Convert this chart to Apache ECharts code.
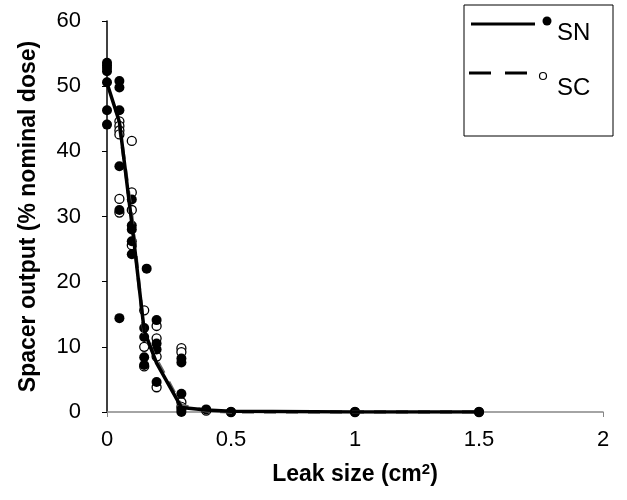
<!DOCTYPE html>
<html>
<head>
<meta charset="utf-8">
<script src="https://cdn.jsdelivr.net/npm/echarts@6/dist/echarts.min.js"></script>
<style>
  html, body { margin: 0; padding: 0; background: #fff; }
  #chart { width: 627px; height: 500px; }
</style>
</head>
<body>
<div id="chart"></div>
<script>
// trend lines
const leakSizes = [0, 0.05, 0.1, 0.15, 0.2, 0.3, 0.4, 0.5, 1, 1.5];
const snLine = [50.5, 44.5, 29, 12.5, 7.5, 0.7, 0.3, 0.1, 0, 0];
const scLine = [null, 44, 30, 12, 8, 1, 0.2, 0, 0, 0];

// individual measurements, SN (filled)
const snLeak = [0, 0, 0, 0, 0, 0, 0,
    0.05, 0.05, 0.05, 0.05, 0.05, 0.05,
    0.1, 0.1, 0.1, 0.1, 0.1,
    0.16, 0.15, 0.15, 0.15, 0.15,
    0.2, 0.2, 0.2, 0.2,
    0.3, 0.3, 0.3, 0.3, 0.3,
    0.4, 0.5, 1, 1.5];
const snOutput = [53.6, 53.2, 52.8, 52.3, 50.6, 46.3, 44.1,
    50.8, 49.8, 46.3, 37.7, 31.0, 14.4,
    32.6, 28.6, 28.0, 26.2, 24.2,
    22.0, 12.9, 11.5, 8.4, 7.2,
    14.1, 10.5, 9.6, 4.6,
    8.2, 7.6, 2.8, 0.4, 0,
    0.4, 0, 0, 0];

// individual measurements, SC (open)
const scLeak = [0.05, 0.05, 0.05, 0.05, 0.05, 0.05,
    0.1, 0.1, 0.1, 0.1,
    0.15, 0.15, 0.15,
    0.2, 0.2, 0.2, 0.2,
    0.3, 0.3, 0.3, 0.3,
    0.4, 0.5, 1, 1.5];
const scOutput = [44.6, 43.9, 43.2, 42.6, 32.7, 30.6,
    41.6, 33.7, 31.0, 25.6,
    15.6, 10.0, 7.0,
    13.2, 11.3, 8.5, 3.8,
    9.8, 9.2, 1.5, 0.8,
    0.2, 0, 0, 0];

const xTicks = [0, 0.5, 1, 1.5, 2];
const yTicks = [0, 10, 20, 30, 40, 50, 60];

function pairs(xs, ys) {
    return xs.map((x, i) => [x, ys[i]]);
}

const font = 'Liberation Sans, Arial, sans-serif';
const chart = echarts.init(document.getElementById('chart'));

chart.setOption({
    animation: false,
    backgroundColor: '#fff',
    grid: { left: 107, right: 24, top: 21, bottom: 88 },
    xAxis: {
        type: 'value',
        min: xTicks[0],
        max: xTicks[xTicks.length - 1],
        interval: 0.5,
        name: 'Leak size (cm{sup|2})',
        nameLocation: 'middle',
        nameGap: 50,
        nameTextStyle: {
            fontFamily: font, fontSize: 23, fontWeight: 'bold', color: '#000',
            rich: { sup: { fontFamily: font, fontSize: 15, fontWeight: 'bold', color: '#000', verticalAlign: 'top', padding: [0, 0, 10, 0] } }
        },
        axisLine: { lineStyle: { color: '#868686', width: 1.5 } },
        axisTick: { show: true, length: 5, lineStyle: { color: '#868686' } },
        axisLabel: { fontFamily: font, fontSize: 22, color: '#000', margin: 17 },
        splitLine: { show: false }
    },
    yAxis: {
        type: 'value',
        min: yTicks[0],
        max: yTicks[yTicks.length - 1],
        interval: 10,
        name: 'Spacer output (% nominal dose)',
        nameLocation: 'middle',
        nameGap: 67,
        nameTextStyle: { fontFamily: font, fontSize: 23, fontWeight: 'bold', color: '#000' },
        axisLine: { show: true, lineStyle: { color: '#000', width: 1.5 } },
        axisTick: { show: true, length: 5, lineStyle: { color: '#000' } },
        axisLabel: { fontFamily: font, fontSize: 22, color: '#000', margin: 26 },
        splitLine: { show: false }
    },
    series: [
        {
            name: 'SC',
            type: 'scatter',
            data: pairs(scLeak, scOutput),
            symbol: 'circle',
            symbolSize: 9,
            itemStyle: { color: '#fff', borderColor: '#000', borderWidth: 1.3, opacity: 1 },
            z: 2
        },
        {
            name: 'SN',
            type: 'scatter',
            data: pairs(snLeak, snOutput),
            symbol: 'circle',
            symbolSize: 10,
            itemStyle: { color: '#000', opacity: 1 },
            z: 3
        },
        {
            name: 'SC trend',
            type: 'line',
            data: pairs(leakSizes, scLine),
            showSymbol: false,
            connectNulls: false,
            lineStyle: { color: '#666', width: 3.5, type: [12, 10] },
            z: 4
        },
        {
            name: 'SN trend',
            type: 'line',
            data: pairs(leakSizes, snLine),
            showSymbol: false,
            lineStyle: { color: '#000', width: 3.5 },
            z: 5
        }
    ],
    graphic: [
        { type: 'rect', shape: { x: 464, y: 5, width: 149, height: 131 }, style: { fill: '#fff', stroke: '#000', lineWidth: 1 } },
        { type: 'line', shape: { x1: 471, y1: 24, x2: 535, y2: 24 }, style: { stroke: '#000', lineWidth: 3 } },
        { type: 'circle', shape: { cx: 547, cy: 21, r: 4.5 }, style: { fill: '#000' } },
        { type: 'text', style: { text: 'SN', x: 557, y: 33, fill: '#000', font: '24px ' + font, verticalAlign: 'middle' } },
        { type: 'line', shape: { x1: 469, y1: 73, x2: 527, y2: 73 }, style: { stroke: '#000', lineWidth: 3, lineDash: [22, 14] } },
        { type: 'circle', shape: { cx: 543, cy: 76, r: 3.5 }, style: { fill: '#fff', stroke: '#000', lineWidth: 1.2 } },
        { type: 'text', style: { text: 'SC', x: 557, y: 88, fill: '#000', font: '24px ' + font, verticalAlign: 'middle' } }
    ]
});
</script>
</body>
</html>
